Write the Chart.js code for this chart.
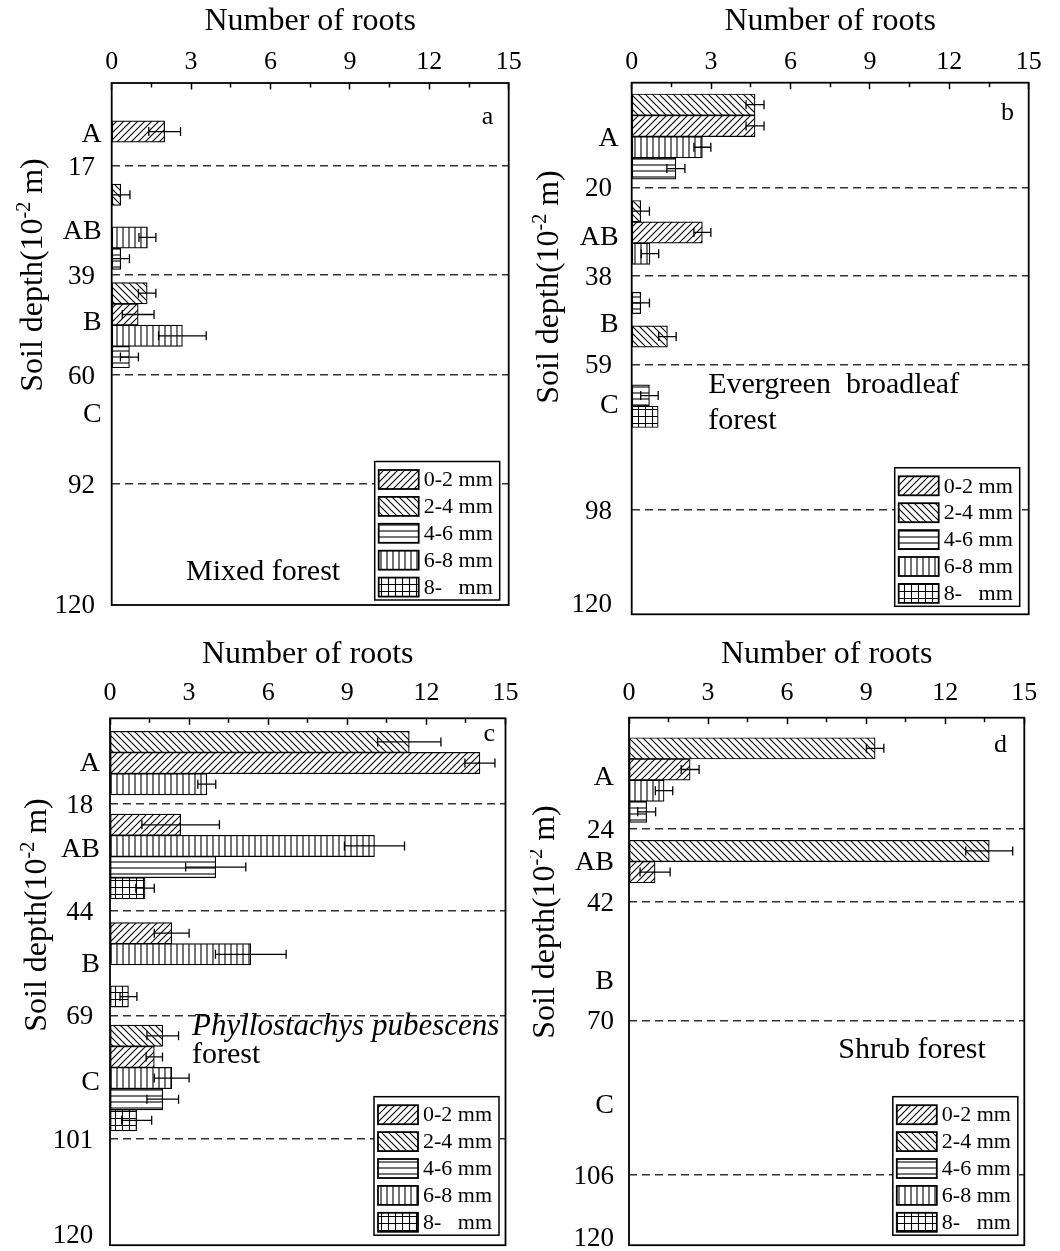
<!DOCTYPE html>
<html>
<head>
<meta charset="utf-8">
<script src="https://cdn.jsdelivr.net/npm/chart.js@4.4.1/dist/chart.umd.min.js"></script>
<style>
  html, body { margin: 0; padding: 0; background: #fff; overflow: hidden; }
  #wrap { position: relative; width: 1060px; height: 1251px; }
  canvas { position: absolute; }
</style>
</head>
<body>
<div id="wrap">
  <canvas id="panelA" width="530" height="625" style="left:0;top:0"></canvas>
  <canvas id="panelB" width="530" height="625" style="left:530px;top:0"></canvas>
  <canvas id="panelC" width="530" height="626" style="left:0;top:625px"></canvas>
  <canvas id="panelD" width="530" height="626" style="left:530px;top:625px"></canvas>
</div>
<script>
/* ---------------- Data ---------------- */

const sizeClasses = ['0-2 mm', '2-4 mm', '4-6 mm', '6-8 mm', '8-   mm'];
const hatchKinds = ['/', '\\', '-', '|', '+'];
const horizons = ['A', 'AB', 'B', 'C'];
const minorTicks = [1.5, 4.5, 7.5, 10.5, 13.5];

// rows = size classes, cols = horizons A, AB, B, C (null = no roots)
// row* = bar centre on the depth axis, counted in bar heights from the top

// a: Mixed forest
const meanA = [
    [2.0, null, 1.0, null],
    [null, 0.34, 1.34, null],
    [null, 0.34, 0.67, null],
    [null, 1.35, 2.67, null],
    [null, null, null, null]
];
const errA = [
    [0.6, null, 0.6, null],
    [null, 0.35, 0.33, null],
    [null, 0.33, 0.34, null],
    [null, 0.32, 0.9, null],
    [null, null, null, null]
];
const rowA = [
    [2.28, null, 10.87, null],
    [null, 5.25, 9.87, null],
    [null, 8.25, 12.87, null],
    [null, 7.25, 11.87, null],
    [null, null, null, null]
];
const depthLabelsA = ['17', '39', '60', '92', '120'];
const depthRowA = [3.90, 9.01, 13.71, 18.83, 24.45];
const horizonRowA = [2.35, 6.88, 11.14, 15.48];

// b: Evergreen broadleaf forest
const meanB = [
    [4.66, 2.67, null, null],
    [4.66, 0.34, 1.35, null],
    [1.67, null, 0.34, 0.67],
    [2.67, 0.69, null, null],
    [null, null, null, 1.0]
];
const errB = [
    [0.34, 0.32, null, null],
    [0.34, 0.33, 0.33, null],
    [0.34, null, 0.33, 0.33],
    [0.32, 0.33, null, null],
    [null, null, null, 0]
];
const rowB = [
    [2.03, 7.03, null, null],
    [1.03, 6.03, 11.92, null],
    [4.03, null, 10.34, 14.69],
    [3.03, 8.03, null, null],
    [null, null, null, 15.69]
];
const depthLabelsB = ['20', '38', '59', '98', '120'];
const depthRowB = [4.91, 9.06, 13.22, 20.06, 24.43];
const horizonRowB = [2.54, 7.17, 11.25, 15.05];

// c: Phyllostachys pubescens forest
const meanC = [
    [14.03, 2.68, 2.34, 1.68],
    [11.35, null, null, 2.0],
    [null, 4.01, null, 2.0],
    [3.67, 10.03, 5.34, 2.34],
    [null, 1.33, 0.70, 1.01]
];
const errC = [
    [0.57, 1.47, 0.66, 0.31],
    [1.2, null, null, 0.6],
    [null, 1.14, null, 0.6],
    [0.34, 1.14, 1.34, 0.66],
    [null, 0.35, 0.32, 0.57]
];
const rowC = [
    [2.12, 5.04, 10.17, 16.03],
    [1.12, null, null, 15.03],
    [null, 7.04, null, 18.03],
    [3.12, 6.04, 11.17, 17.03],
    [null, 8.04, 13.17, 19.03]
];
const depthLabelsC = ['18', '44', '69', '101', '120'];
const depthRowC = [4.04, 9.13, 14.06, 19.92, 24.4];
const horizonRowC = [2.04, 6.1, 11.58, 17.14];

// d: Shrub forest
const meanD = [
    [2.32, 0.99, null, null],
    [9.34, 13.67, null, null],
    [0.67, null, null, null],
    [1.33, null, null, null],
    [null, null, null, null]
];
const errD = [
    [0.34, 0.57, null, null],
    [0.33, 0.89, null, null],
    [0.34, null, null, null],
    [0.33, null, null, null],
    [null, null, null, null]
];
const rowD = [
    [2.45, 7.3, null, null],
    [1.45, 6.3, null, null],
    [4.45, null, null, null],
    [3.45, null, null, null],
    [null, null, null, null]
];
const depthLabelsD = ['24', '42', '70', '106', '120'];
const depthRowD = [5.27, 8.69, 14.31, 21.62, 24.56];
const horizonRowD = [2.75, 6.74, 12.4, 18.25];

/* ---------------- Styles ---------------- */

const SERIF = '"Liberation Serif", "Times New Roman", "DejaVu Serif", serif';

function hatch(kind) {
    const s = kind === '-' || kind === '|' ? 6 : 7;
    const c = document.createElement('canvas');
    c.width = s; c.height = s;
    const g = c.getContext('2d');
    g.fillStyle = '#fff';
    g.fillRect(0, 0, s, s);
    g.strokeStyle = '#000';
    g.lineWidth = 1.1;
    g.beginPath();
    if (kind === '/') {
        g.moveTo(-1, s + 1); g.lineTo(s + 1, -1);
        g.moveTo(-1, 1); g.lineTo(1, -1);
        g.moveTo(s - 1, s + 1); g.lineTo(s + 1, s - 1);
    } else if (kind === '\\') {
        g.moveTo(-1, -1); g.lineTo(s + 1, s + 1);
        g.moveTo(s - 1, -1); g.lineTo(s + 1, 1);
        g.moveTo(-1, s - 1); g.lineTo(1, s + 1);
    } else if (kind === '-') {
        g.moveTo(0, s / 2); g.lineTo(s, s / 2);
    } else if (kind === '|') {
        g.moveTo(s / 2, 0); g.lineTo(s / 2, s);
    } else {
        g.moveTo(0, s / 2); g.lineTo(s, s / 2);
        g.moveTo(s / 2, 0); g.lineTo(s / 2, s);
    }
    g.stroke();
    return g.createPattern(c, 'repeat');
}
const patterns = hatchKinds.map(hatch);

/* ---------------- Panels ---------------- */

const panels = [
    {
        id: 'panelA', mean: meanA, err: errA, row: rowA,
        depthLabels: depthLabelsA, depthRow: depthRowA, horizonRow: horizonRowA,
        rows: 24.51, width: 530, height: 625,
        area: { left: 111.7, top: 83, right: 508.7, bottom: 605 },
        xTitleY: 22, xLabelY: 62, labelPad: 10, numGap: ' ',
        yTitle: { x: 34, y: 275 },
        legend: { right: 9, bottom: 5 },
        letter: { text: 'a', x: 14.2, y: 1.6 },
        notes: [{ text: 'Mixed forest', x: 5.72, y: 22.96, align: 'center' }]
    },
    {
        id: 'panelB', mean: meanB, err: errB, row: rowB,
        depthLabels: depthLabelsB, depthRow: depthRowB, horizonRow: horizonRowB,
        rows: 24.96, width: 530, height: 625,
        area: { left: 101.7, top: 82.7, right: 498.7, bottom: 614.3 },
        xTitleY: 22, xLabelY: 62, labelPad: 13, numGap: ' ',
        yTitle: { x: 20, y: 287 },
        legend: { right: 9, bottom: 8 },
        letter: { text: 'b', x: 14.2, y: 1.43 },
        notes: [
            { text: 'Evergreen  broadleaf', x: 2.89, y: 14.2, align: 'left' },
            { text: 'forest', x: 2.89, y: 15.88, align: 'left' }
        ]
    },
    {
        id: 'panelC', mean: meanC, err: errC, row: rowC,
        depthLabels: depthLabelsC, depthRow: depthRowC, horizonRow: horizonRowC,
        rows: 24.94, width: 530, height: 626,
        area: { left: 110, top: 93.3, right: 505.5, bottom: 624.5 },
        xTitleY: 30, xLabelY: 68, labelPad: 10, numGap: ' ',
        yTitle: { x: 38, y: 290 },
        legend: { right: 6.5, bottom: 10 },
        letter: { text: 'c', x: 14.38, y: 0.75 },
        notes: [
            { text: 'Phyllostachys pubescens', x: 3.11, y: 14.6, align: 'left', italic: true },
            { text: 'forest', x: 3.11, y: 15.95, align: 'left' }
        ]
    },
    {
        id: 'panelD', mean: meanD, err: errD, row: rowD,
        depthLabels: depthLabelsD, depthRow: depthRowD, horizonRow: horizonRowD,
        rows: 24.94, width: 530, height: 626,
        area: { left: 99, top: 92.7, right: 494.3, bottom: 624 },
        xTitleY: 30, xLabelY: 68, labelPad: 15, numGap: '',
        yTitle: { x: 16, y: 297 },
        legend: { right: 6.5, bottom: 10 },
        letter: { text: 'd', x: 14.1, y: 1.28 },
        notes: [{ text: 'Shrub forest', x: 10.74, y: 15.7, align: 'center' }]
    }
];

/* ---------------- Drawing helpers ---------------- */

function drawYTitle(ctx, cx, cy) {
    const main = '32px ' + SERIF;
    const sup = '20px ' + SERIF;
    const p1 = 'Soil depth(10', p2 = '-2', p3 = ' m)';
    ctx.save();
    ctx.translate(cx, cy);
    ctx.rotate(-Math.PI / 2);
    ctx.fillStyle = '#000';
    ctx.textBaseline = 'middle';
    ctx.textAlign = 'left';
    ctx.font = main;
    const w1 = ctx.measureText(p1).width;
    const w3 = ctx.measureText(p3).width;
    ctx.font = sup;
    const w2 = ctx.measureText(p2).width;
    let x = -(w1 + w2 + w3) / 2;
    ctx.font = main;
    ctx.fillText(p1, x, 0);
    x += w1;
    ctx.font = sup;
    ctx.fillText(p2, x, -9);
    x += w2;
    ctx.font = main;
    ctx.fillText(p3, x, 0);
    ctx.restore();
}

function drawLegend(ctx, a, m) {
    const rowH = 26.9, boxW = 125, boxH = 138.5;
    const bx = a.right - m.right - boxW;
    const by = a.bottom - m.bottom - boxH;
    ctx.save();
    ctx.fillStyle = '#fff';
    ctx.fillRect(bx, by, boxW, boxH);
    ctx.lineWidth = 1.5;
    ctx.strokeStyle = '#000';
    ctx.strokeRect(bx, by, boxW, boxH);
    ctx.font = '22px ' + SERIF;
    ctx.textBaseline = 'middle';
    ctx.textAlign = 'left';
    sizeClasses.forEach((lab, k) => {
        const cy = by + 18 + k * rowH;
        ctx.fillStyle = patterns[k];
        ctx.fillRect(bx + 4, cy - 9.5, 40, 19);
        ctx.lineWidth = 1.8;
        ctx.strokeRect(bx + 4, cy - 9.5, 40, 19);
        ctx.fillStyle = '#000';
        ctx.fillText(lab, bx + 49, cy + 1);
    });
    ctx.restore();
}

function decor(cfg) {
    return {
        id: 'decor',
        afterDraw(chart) {
            const { ctx, chartArea: a, scales } = chart;
            ctx.save();
            ctx.lineWidth = 1.8;
            ctx.strokeStyle = '#000';
            ctx.strokeRect(a.left, a.top, a.right - a.left, a.bottom - a.top);

            ctx.fillStyle = '#000';
            ctx.textBaseline = 'middle';
            ctx.font = '26px ' + SERIF;
            ctx.textAlign = 'center';
            ctx.fillText(cfg.letter.text,
                scales.x.getPixelForValue(cfg.letter.x),
                scales.y.getPixelForValue(cfg.letter.y));

            cfg.notes.forEach(n => {
                ctx.font = (n.italic ? 'italic 31px ' : '30px ') + SERIF;
                ctx.textAlign = n.align;
                ctx.fillText(n.text, scales.x.getPixelForValue(n.x), scales.y.getPixelForValue(n.y));
            });
            ctx.restore();

            drawLegend(ctx, a, cfg.legend);
            drawYTitle(ctx, cfg.yTitle.x, cfg.yTitle.y);
        }
    };
}

/* ---------------- Charts ---------------- */

function buildPanel(cfg) {
    const a = cfg.area;
    const barPx = (a.bottom - a.top) / cfg.rows;
    const datasets = [];

    sizeClasses.forEach((label, k) => {
        const pts = [];
        cfg.mean[k].forEach((v, h) => {
            if (v === null) return;
            const r = cfg.row[k][h];
            pts.push({ x: v, y: r });
            const e = cfg.err[k][h];
            // one short line dataset per error bar, capped at both ends
            if (e) {
                datasets.push({
                    type: 'line',
                    label: 'SD',
                    data: [{ x: v - e, y: r }, { x: v + e, y: r }],
                    order: -1,
                    borderColor: '#000',
                    borderWidth: 1.3,
                    fill: false,
                    tension: 0,
                    pointStyle: 'line',
                    rotation: 90,
                    pointRadius: 4.5,
                    pointHoverRadius: 4.5,
                    pointBorderColor: '#000',
                    pointBorderWidth: 1.3
                });
            }
        });
        datasets.push({
            type: 'bar',
            label,
            data: pts,
            indexAxis: 'y',
            grouped: false,
            barThickness: barPx,
            backgroundColor: patterns[k],
            borderColor: '#000',
            borderWidth: 1.2,
            borderSkipped: false
        });
    });

    // depth boundaries (dashed) and horizon names share the left axis
    const lastDepth = cfg.depthRow.length - 1;
    const yTicks = cfg.depthRow.map((v, i) => ({
        value: v, label: cfg.depthLabels[i] + cfg.numGap, dashed: i < lastDepth, horizon: false
    })).concat(cfg.horizonRow.map((v, i) => ({
        value: v, label: horizons[i], dashed: false, horizon: true
    })));
    yTicks.sort((p, q) => p.value - q.value);

    const tickFont = { family: SERIF, size: 26 };

    return new Chart(document.getElementById(cfg.id), {
        type: 'bar',
        data: { datasets },
        plugins: [decor(cfg)],
        options: {
            responsive: false,
            animation: false,
            devicePixelRatio: 1,
            layout: {
                padding: { left: 0, top: 0, right: cfg.width - a.right, bottom: cfg.height - a.bottom }
            },
            plugins: {
                legend: { display: false },
                tooltip: { enabled: false }
            },
            scales: {
                x: {
                    type: 'linear', axis: 'x', position: 'top', weight: 1,
                    min: 0, max: 15, offset: false,
                    ticks: {
                        stepSize: 3, font: tickFont, color: '#000', maxRotation: 0, autoSkip: false,
                        padding: a.top - 15.6 - cfg.xLabelY + 6.5
                    },
                    grid: { offset: false, drawOnChartArea: false, drawTicks: true, tickLength: -6.5, tickColor: '#000', tickWidth: 1.5 },
                    border: { display: false },
                    title: {
                        display: true, text: 'Number of roots', color: '#000',
                        font: { family: SERIF, size: 32 },
                        padding: { top: cfg.xTitleY - 19.2, bottom: 0 }
                    },
                    afterFit: s => { s.height = a.top; s.paddingLeft = 0; s.paddingRight = 0; }
                },
                x2: {
                    type: 'linear', axis: 'x', position: 'top', weight: 0,
                    min: 0, max: 15, offset: false,
                    afterBuildTicks: s => { s.ticks = minorTicks.map(v => ({ value: v })); },
                    ticks: { display: false },
                    grid: { offset: false, drawOnChartArea: false, drawTicks: true, tickLength: -4.5, tickColor: '#000', tickWidth: 1.5 },
                    border: { display: false },
                    afterFit: s => { s.height = 0; s.paddingLeft = 0; s.paddingRight = 0; }
                },
                y: {
                    type: 'linear', axis: 'y', position: 'left',
                    reverse: true, min: 0, max: cfg.rows, offset: false,
                    afterBuildTicks: s => { s.ticks = yTicks.map(t => ({ value: t.value })); },
                    ticks: {
                        callback: (v, i) => yTicks[i].label,
                        font: c => ({ family: SERIF, size: yTicks[c.index] && yTicks[c.index].horizon ? 28 : 27 }),
                        color: '#000', padding: cfg.labelPad, autoSkip: false, labelOffset: 2
                    },
                    grid: {
                        offset: false, drawTicks: false, lineWidth: 1.4,
                        color: c => (yTicks[c.index] && yTicks[c.index].dashed) ? '#333' : 'rgba(0,0,0,0)'
                    },
                    border: { display: false, dash: [8, 5] },
                    afterFit: s => { s.width = a.left; s.paddingTop = 0; s.paddingBottom = 0; }
                }
            }
        }
    });
}

panels.forEach(buildPanel);
</script>
</body>
</html>
